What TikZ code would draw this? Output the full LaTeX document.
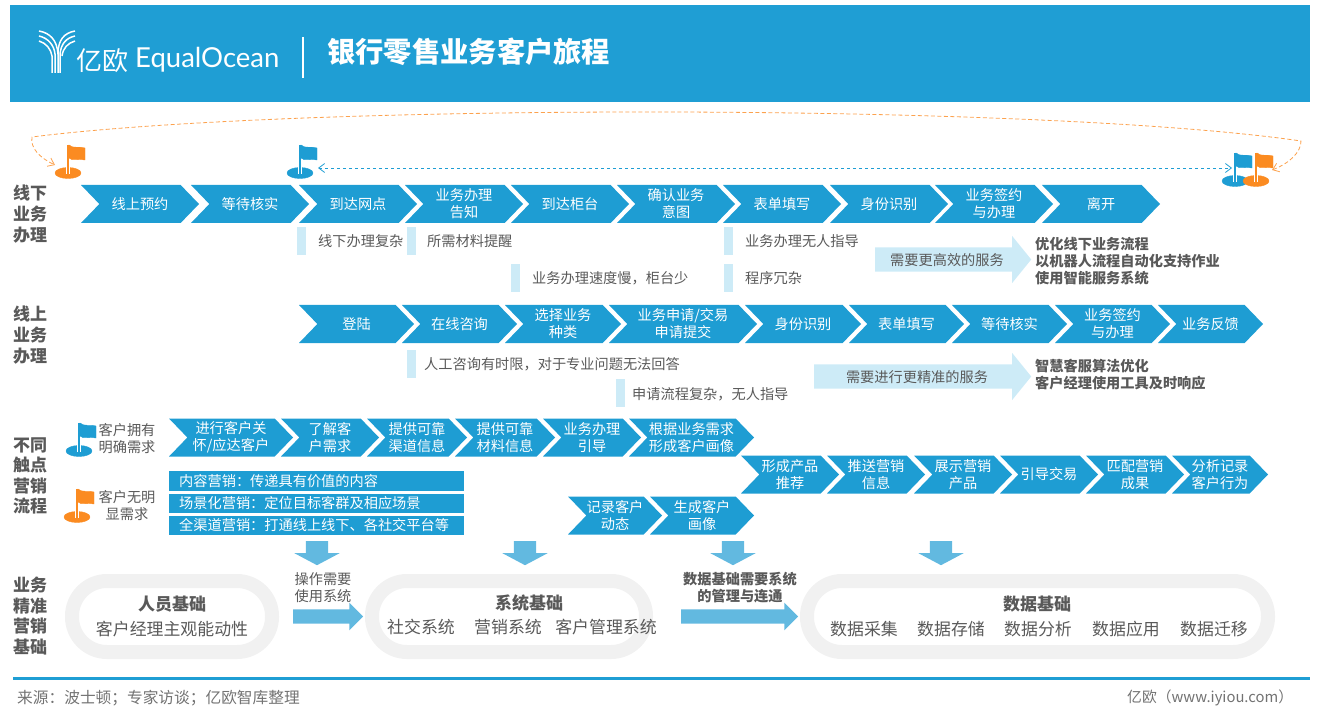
\documentclass[tikz,border=0pt]{standalone}
\usepackage{fontspec}
\setmainfont{Noto Sans CJK SC}
\newfontfamily\latinfont{Lato}
\usetikzlibrary{shapes.arrows,shapes.symbols,arrows.meta}
\definecolor{headblue}{HTML}{1F9ED4}
\definecolor{chevblue}{HTML}{1E9DD3}
\definecolor{paleblue}{HTML}{CDEBF7}
\definecolor{midblue}{HTML}{62B9E0}
\definecolor{flagorange}{HTML}{FB8B21}
\definecolor{ringgray}{HTML}{F1F1F1}
\definecolor{textgray}{HTML}{595959}
\newcommand{\px}[2]{\fontsize{#1}{#2}\selectfont}
\tikzset{
	chevbox/.style={signal,signal from=west,signal to=east,signal pointer angle=92,fill=chevblue,text=white,inner sep=0pt,minimum height=38,align=center,font=\px{14.2}{17}},
	headtext/.style={text=textgray,align=center,font=\px{17}{20.6}\bfseries},
	tagbar/.style={fill=paleblue,inner sep=0pt,minimum width=9,minimum height=28},
	tagtext/.style={text=textgray,anchor=west,inner sep=0pt,font=\px{14.2}{17}},
	planbar/.style={fill=chevblue,text=white,anchor=west,inner sep=0pt,minimum width=295,font=\px{14.2}{17},text width=275,align=left},
	sidetext/.style={text=textgray,anchor=west,inner sep=0pt,align=left,font=\px{14.2}{17}\bfseries},
	paletip/.style={single arrow,fill=paleblue,anchor=tail,inner sep=0pt,inner ysep=12,single arrow head extend=11.5,minimum width=47,single arrow tip angle=102},
	downtip/.style={single arrow,fill=midblue,anchor=tail,rotate=-90,inner sep=0pt,inner ysep=11,single arrow head extend=11.5,minimum width=45,minimum height=24,single arrow tip angle=124},
	fedtip/.style={single arrow,fill=midblue,anchor=tail,inner sep=0pt,inner ysep=7,single arrow head extend=6.75,minimum width=27.5,single arrow tip angle=90},
	ring/.style={draw=ringgray,line width=14,rounded corners=35,inner sep=0pt,minimum height=71},
	ringtitle/.style={text=textgray,font=\px{17}{17}\bfseries},
	ringtext/.style={text=textgray,font=\px{16.9}{17}},
	notetext/.style={text=textgray,align=center,font=\px{14.2}{17}},
	footertext/.style={text=textgray!85,inner sep=0pt},
	flagpin/.pic={
		\fill[pic actions] (0,-2) ellipse (13 and 5.5);
		\draw[white,line width=4.5] (0,-1) -- (0,-8);
		\draw[pic actions,line width=2.6] (0,0) -- (0,-30);
		\fill[pic actions] (1,-30) .. controls (5,-26) and (11,-29) .. (17,-27) -- (17,-15) .. controls (11,-17) and (5,-13) .. (1,-17) -- cycle;
	}
}
\begin{document}
\begin{tikzpicture}[x=1pt,y=-1pt]
	\useasboundingbox (0,0) rectangle (1317,711);

	% title band
	\fill[headblue] (10,5) rectangle (1310,102);
	\draw[white,line width=1.1] (303,37) -- (303,78);
	\node[white,anchor=west,inner sep=0pt,font=\px{28.3}{30}\bfseries] (title) at (327,52) {银行零售业务客户旅程};
	\draw[white,line width=1.5] (39,31) .. controls (50,33) and (57,40) .. (58,54) -- (58,73);
	\draw[white,line width=1.5] (39,36) .. controls (48,38) and (54,45) .. (55,54) -- (55,73);
	\draw[white,line width=1.5] (39,41) .. controls (46,43) and (51,49) .. (52,56) -- (52,73);
	\draw[white,line width=1.5] (75,31) .. controls (64,33) and (58,40) .. (58,54);
	\draw[white,line width=1.5] (75,36) .. controls (66,38) and (61,44) .. (60,54) -- (60,73);
	\draw[white,line width=1.5] (75,41) .. controls (68,43) and (63,48) .. (62,56);
	\node[white,anchor=west,inner sep=0pt,font=\px{26}{28}] (logocn) at (76,61) {亿欧};
	\node[white,anchor=west,inner sep=0pt,font=\latinfont\px{27.5}{30}] (logoen) at (135,60) {EqualOcean};

	% flags and journey loop
	\pic[fill=flagorange,draw=flagorange] at (68,175) {flagpin};
	\pic[fill=chevblue,draw=chevblue] at (300,175) {flagpin};
	\pic[fill=chevblue,draw=chevblue] at (1235,183) {flagpin};
	\pic[fill=flagorange,draw=flagorange] at (1256,183) {flagpin};
	\coordinate (loopL) at (55,165);
	\coordinate (loopR) at (1272,170);
	\coordinate (lineL) at (318,168);
	\coordinate (lineR) at (1232,168);
	\draw[flagorange!80,dash pattern=on 4pt off 2.5pt,line width=0.8,{Straight Barb[length=6,width=9]}-{Straight Barb[length=6,width=9]}] (loopR) .. controls (1290,163) and (1301,152) .. (1301,141) .. controls (1040,103) and (300,103) .. (32,137) .. controls (30,148) and (40,158) .. (loopL);
	\draw[chevblue,dashed,line width=0.8,{Straight Barb[length=6,width=9]}-{Straight Barb[length=6,width=9]}] (lineL) -- (lineR);

	% offline row
	\node[headtext] (headoff) at (30,214) {线下\\业务\\办理};
	\node[chevbox,minimum width=118] (off1) at (140,204) {线上预约};
	\node[chevbox,minimum width=118] (off2) at (250,204) {等待核实};
	\node[chevbox,minimum width=118] (off3) at (358,204) {到达网点};
	\node[chevbox,minimum width=118] (off4) at (464,204) {业务办理\\告知};
	\node[chevbox,minimum width=118] (off5) at (570,204) {到达柜台};
	\node[chevbox,minimum width=118] (off6) at (676,204) {确认业务\\意图};
	\node[chevbox,minimum width=118] (off7) at (782,204) {表单填写};
	\node[chevbox,minimum width=118] (off8) at (889,204) {身份识别};
	\node[chevbox,minimum width=118] (off9) at (994,204) {业务签约\\与办理};
	\node[chevbox,minimum width=118] (off10) at (1101,204) {离开};

	\node[tagbar] (barA) at (301.5,241) {};
	\node[tagtext] (tagA) at (318,241) {线下办理复杂};
	\node[tagbar] (barB) at (411.5,241) {};
	\node[tagtext] (tagB) at (427,241) {所需材料提醒};
	\node[tagbar] (barC) at (515.5,278) {};
	\node[tagtext] (tagC) at (532,278) {业务办理速度慢，柜台少};
	\node[tagbar] (barD) at (728.5,241) {};
	\node[tagtext] (tagD) at (745,241) {业务办理无人指导};
	\node[tagbar] (barE) at (728.5,278) {};
	\node[tagtext] (tagE) at (745,278) {程序冗杂};

	\node[paletip,minimum height=156] (needoff) at (875,259.5) {};
	\node[text=textgray,font=\px{14.2}{17},inner sep=0pt] (needofftext) at (947,260) {需要更高效的服务};
	\node[sidetext] (sideoff) at (1035,261) {优化线下业务流程\\以机器人流程自动化支持作业\\使用智能服务系统};

	% online row
	\node[headtext] (headon) at (30,335) {线上\\业务\\办理};
	\node[chevbox,minimum width=115] (on1) at (356.5,324) {登陆};
	\node[chevbox,minimum width=115] (on2) at (459.5,324) {在线咨询};
	\node[chevbox,minimum width=116] (on3) at (563,324) {选择业务\\种类};
	\node[chevbox,minimum width=148] (on4) at (683,324) {业务申请/交易\\申请提交};
	\node[chevbox,minimum width=116] (on5) at (803,324) {身份识别};
	\node[chevbox,minimum width=115] (on6) at (906.5,324) {表单填写};
	\node[chevbox,minimum width=115] (on7) at (1009.5,324) {等待核实};
	\node[chevbox,minimum width=115] (on8) at (1112.5,324) {业务签约\\与办理};
	\node[chevbox,minimum width=105] (on9) at (1210.5,324) {业务反馈};

	\node[tagbar] (barF) at (411.5,364) {};
	\node[tagtext] (tagF) at (424,364) {人工咨询有时限，对于专业问题无法回答};
	\node[tagbar] (barG) at (620.5,393) {};
	\node[tagtext] (tagG) at (632,394) {申请流程复杂，无人指导};

	\node[paletip,minimum height=217] (needon) at (814,376.5) {};
	\node[text=textgray,font=\px{14.2}{17},inner sep=0pt] (needontext) at (917,377) {需要进行更精准的服务};
	\node[sidetext] (sideon) at (1035,375) {智慧客服算法优化\\客户经理使用工具及时响应};

	% touch point row
	\node[headtext] (headtouch) at (30,476) {不同\\触点\\营销\\流程};
	\pic[fill=chevblue,draw=chevblue] at (79,453) {flagpin};
	\node[notetext] (clear) at (127,438.5) {客户拥有\\明确需求};
	\pic[fill=flagorange,draw=flagorange] at (77,519) {flagpin};
	\node[notetext] (vague) at (127,505.5) {客户无明\\显需求};
	\node[chevbox,minimum width=124] (tch1) at (231,437.5) {进行客户关\\怀/应达客户};
	\node[chevbox,minimum width=98] (tch2) at (330,437.5) {了解客\\户需求};
	\node[chevbox,minimum width=100] (tch3) at (417,437.5) {提供可靠\\渠道信息};
	\node[chevbox,minimum width=100] (tch4) at (505,437.5) {提供可靠\\材料信息};
	\node[chevbox,minimum width=98] (tch5) at (592,437.5) {业务办理\\引导};
	\node[chevbox,minimum width=125] (tch6) at (691.5,437.5) {根据业务需求\\形成客户画像};

	\node[chevbox,minimum width=98] (push1) at (790,474.5) {形成产品\\推荐};
	\node[chevbox,minimum width=98] (push2) at (876,474.5) {推送营销\\信息};
	\node[chevbox,minimum width=98] (push3) at (963,474.5) {展示营销\\产品};
	\node[chevbox,minimum width=98] (push4) at (1049,474.5) {引导交易};
	\node[chevbox,minimum width=98] (push5) at (1135,474.5) {匹配营销\\成果};
	\node[chevbox,minimum width=96] (push6) at (1220,474.5) {分析记录\\客户行为};

	\node[chevbox,minimum width=94] (log1) at (615,515.5) {记录客户\\动态};
	\node[chevbox,minimum width=104] (log2) at (702,515.5) {生成客户\\画像};

	\node[planbar,minimum height=20] (plan1) at (169,481) {内容营销：传递具有价值的内容};
	\node[planbar,minimum height=19] (plan2) at (169,503.5) {场景化营销：定位目标客群及相应场景};
	\node[planbar,minimum height=19] (plan3) at (169,525.5) {全渠道营销：打通线上线下、各社交平台等};

	\node[downtip] (down1) at (317,541) {};
	\node[downtip] (down2) at (525,541) {};
	\node[downtip] (down3) at (733,541) {};
	\node[downtip] (down4) at (941,541) {};

	% foundation row
	\node[headtext] (headbase) at (30,616) {业务\\精准\\营销\\基础};
	\node[ring,minimum width=200] (ringstaff) at (172,616.5) {};
	\node[ringtitle] (stafftitle) at (172,604) {人员基础};
	\node[ringtext] (staffitem) at (172,629) {客户经理主观能动性};

	\node[notetext] (opnote) at (323,587.5) {操作需要\\使用系统};
	\node[fedtip,minimum height=70] (fed1) at (293,616.5) {};

	\node[ring,minimum width=274] (ringsys) at (509,616.5) {};
	\node[ringtitle] (systitle) at (529,603) {系统基础};
	\node[ringtext] (sys1) at (421,627) {社交系统};
	\node[ringtext] (sys2) at (508,627) {营销系统};
	\node[ringtext] (sys3) at (606,627) {客户管理系统};

	\node[notetext,font=\px{14.2}{17}\bfseries] (datanote) at (740,587.5) {数据基础需要系统\\的管理与连通};
	\node[fedtip,minimum height=117] (fed2) at (681,616.5) {};

	\node[ring,minimum width=461] (ringdata) at (1037.5,616.5) {};
	\node[ringtitle] (datatitle) at (1037,604) {数据基础};
	\node[ringtext] (data1) at (864,629) {数据采集};
	\node[ringtext] (data2) at (951,629) {数据存储};
	\node[ringtext] (data3) at (1038,629) {数据分析};
	\node[ringtext] (data4) at (1126,629) {数据应用};
	\node[ringtext] (data5) at (1214,629) {数据迁移};

	% footer
	\fill[headblue] (13,677) rectangle (1310,680);
	\node[footertext,anchor=west,font=\px{15.7}{17}] (source) at (17,698) {来源：波士顿；专家访谈；亿欧智库整理};
	\node[footertext,anchor=west,font=\px{14.8}{17}] (brand) at (1127,698) {亿欧（www.iyiou.com）};
\end{tikzpicture}
\end{document}
